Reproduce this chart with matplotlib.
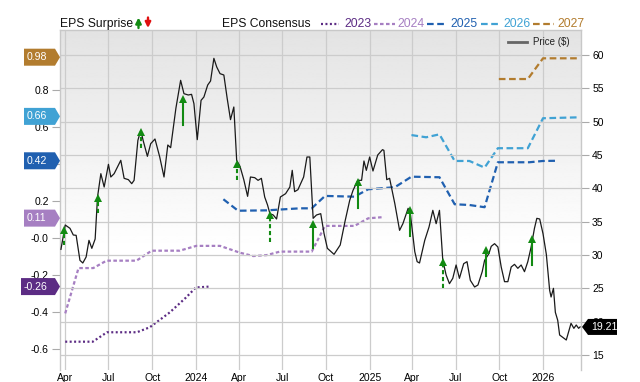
import matplotlib
matplotlib.use('Agg')
import numpy as np
import pandas as pd
import matplotlib.pyplot as plt
from matplotlib.patches import Polygon
from matplotlib.lines import Line2D

plt.rcParams['font.family'] = ['Liberation Sans', 'DejaVu Sans']

# price ($)
price_dates = ['2023-03-23', '2023-04-01', '2023-04-11', '2023-04-18', '2023-04-24', '2023-05-02',
               '2023-05-08', '2023-05-15', '2023-05-21', '2023-05-27', '2023-06-03', '2023-06-08',
               '2023-06-15', '2023-06-22', '2023-07-01', '2023-07-06', '2023-07-13', '2023-07-27',
               '2023-08-03', '2023-08-12', '2023-08-19', '2023-08-24', '2023-09-01', '2023-09-07',
               '2023-09-12', '2023-09-21', '2023-09-28', '2023-10-07', '2023-10-17', '2023-10-26',
               '2023-11-03', '2023-11-09', '2023-11-20', '2023-11-30', '2023-12-07', '2023-12-16',
               '2023-12-23', '2023-12-28', '2024-01-04', '2024-01-12', '2024-01-18', '2024-01-26',
               '2024-02-01', '2024-02-08', '2024-02-14', '2024-02-21', '2024-02-29', '2024-03-07',
               '2024-03-14', '2024-03-21', '2024-03-27', '2024-04-03', '2024-04-11', '2024-04-19',
               '2024-04-25', '2024-05-04', '2024-05-11', '2024-05-18', '2024-05-25', '2024-05-31',
               '2024-06-05', '2024-06-12', '2024-06-19', '2024-06-27', '2024-07-08', '2024-07-17',
               '2024-07-22', '2024-07-27', '2024-08-03', '2024-08-15', '2024-08-22', '2024-08-28',
               '2024-09-04', '2024-09-11', '2024-09-20', '2024-09-27', '2024-10-04', '2024-10-18',
               '2024-10-31', '2024-11-10', '2024-11-20', '2024-11-27', '2024-12-07', '2024-12-15',
               '2024-12-20', '2024-12-25', '2025-01-01', '2025-01-08', '2025-01-18', '2025-01-28',
               '2025-01-31', '2025-02-06', '2025-02-12', '2025-02-23', '2025-03-05', '2025-03-12',
               '2025-03-23', '2025-03-28', '2025-04-06', '2025-04-11', '2025-04-16', '2025-04-27',
               '2025-05-06', '2025-05-14', '2025-05-21', '2025-05-28', '2025-06-04', '2025-06-11',
               '2025-06-18', '2025-06-25', '2025-07-02', '2025-07-09', '2025-07-18', '2025-07-25',
               '2025-08-01', '2025-08-10', '2025-08-17', '2025-08-26', '2025-08-31', '2025-09-09',
               '2025-09-14', '2025-09-21', '2025-09-28', '2025-10-05', '2025-10-12', '2025-10-19',
               '2025-10-26', '2025-11-02', '2025-11-09', '2025-11-16', '2025-11-23', '2025-11-30',
               '2025-12-07', '2025-12-14', '2025-12-19', '2025-12-25', '2026-01-01', '2026-01-08',
               '2026-01-15', '2026-01-18', '2026-01-23', '2026-01-27', '2026-02-01', '2026-02-05',
               '2026-02-19', '2026-03-01', '2026-03-07', '2026-03-12', '2026-03-17', '2026-03-20']
price = [30.85, 34.5, 34.0, 33.0, 32.95, 29.2,
         28.8, 29.7, 32.2, 31.0, 32.4, 38.7,
         42.2, 40.2, 43.6, 41.7, 42.2, 44.2,
         41.5, 41.3, 40.7, 41.2, 47.2, 48.7,
         47.2, 44.8, 46.7, 47.4, 44.7, 41.7,
         46.5, 46.1, 52.0, 56.2, 54.2, 54.0,
         54.1, 52.7, 47.3, 53.2, 53.7, 55.5,
         56.1, 59.5, 58.2, 57.2, 57.0, 53.5,
         50.3, 52.2, 44.2, 43.3, 41.3, 38.8,
         41.7, 41.6, 41.2, 41.5, 38.7, 37.5,
         36.2, 36.0, 35.4, 38.7, 39.2, 40.2,
         42.7, 39.5, 39.8, 41.7, 44.7, 44.7,
         35.5, 36.0, 36.2, 33.2, 31.0, 30.1,
         31.5, 35.0, 38.2, 39.7, 41.2, 41.2,
         44.1, 42.7, 44.7, 42.6, 45.0, 45.8,
         45.7, 41.3, 41.5, 37.7, 33.7, 34.7,
         37.0, 36.0, 30.5, 29.0, 28.8, 32.2,
         34.2, 36.7, 34.7, 36.7, 29.2, 27.0,
         25.7, 26.5, 28.5, 26.5, 28.7, 29.0,
         26.2, 25.2, 25.5, 27.5, 29.2, 30.2,
         31.3, 31.7, 31.2, 28.2, 26.0, 26.0,
         28.2, 28.6, 28.0, 28.5, 27.5, 29.0,
         31.2, 34.0, 35.5, 35.4, 33.2, 30.1,
         24.7, 23.7, 25.0, 21.4, 20.2, 18.0,
         17.25, 19.75, 19.0, 19.5, 19.0, 19.21]

# EPS consensus by fiscal year
fy2023_dates = ['2023-04-01', '2023-05-29', '2023-06-28', '2023-08-30', '2023-09-26',
                '2023-11-07', '2023-12-11', '2024-01-01', '2024-01-31']
fy2023 = [-0.558, -0.558, -0.507, -0.507, -0.48, -0.40, -0.32, -0.265, -0.26]
fy2024_dates = ['2023-04-01', '2023-04-29', '2023-05-30', '2023-06-27', '2023-08-29', '2023-09-30',
                '2023-11-28', '2024-01-02', '2024-02-21', '2024-04-03', '2024-05-01', '2024-05-29',
                '2024-06-26', '2024-09-01', '2024-09-29', '2024-11-30', '2024-12-29', '2025-01-27']
fy2024 = [-0.405, -0.16, -0.16, -0.12, -0.12, -0.066,
          -0.066, -0.04, -0.04, -0.077, -0.095, -0.09,
          -0.071, -0.071, 0.068, 0.068, 0.109, 0.115]
fy2025_dates = ['2024-02-28', '2024-03-30', '2024-05-29', '2024-08-07', '2024-09-01', '2024-09-29',
                '2024-11-30', '2024-12-29', '2025-02-23', '2025-03-30', '2025-05-28', '2025-06-29',
                '2025-07-30', '2025-08-31', '2025-09-28', '2025-12-03', '2026-01-01', '2026-01-29']
fy2025 = [0.212, 0.150, 0.152, 0.163, 0.163, 0.23,
          0.226, 0.266, 0.277, 0.334, 0.331, 0.185,
          0.181, 0.169, 0.412, 0.412, 0.419, 0.42]
fy2026_dates = ['2025-03-30', '2025-04-30', '2025-05-28', '2025-06-29', '2025-07-30',
                '2025-08-31', '2025-09-28', '2025-11-30', '2026-01-01', '2026-03-19']
fy2026 = [0.559, 0.547, 0.563, 0.419, 0.419, 0.383, 0.488, 0.488, 0.65, 0.655]
fy2027_dates = ['2025-09-30', '2025-11-30', '2026-01-01', '2026-03-19']
fy2027 = [0.862, 0.862, 0.974, 0.974]

# EPS surprise arrows (price level of arrow base / head)
surprise_dates = ['2023-03-30', '2023-06-08', '2023-09-07', '2023-12-06', '2024-03-27', '2024-06-05',
                  '2024-09-04', '2024-12-08', '2025-03-27', '2025-06-05', '2025-09-02', '2025-12-09']
arrow_base = [31.5, 36.3, 46.0, 49.5, 41.2, 32.0, 31.0, 37.0, 32.8, 25.0, 26.8, 28.5]
arrow_tip = [33.8, 38.6, 48.4, 53.4, 43.6, 36.0, 34.7, 41.0, 36.8, 29.0, 30.8, 32.4]
arrow_dashed = [True, True, True, False, True, True, False, False, False, True, False, False]

tick_dates = ['2023-04-01', '2023-07-01', '2023-10-01', '2024-01-01', '2024-04-01', '2024-07-01',
              '2024-10-01', '2025-01-01', '2025-04-01', '2025-07-01', '2025-10-01', '2026-01-01']
tick_labels = ['Apr', 'Jul', 'Oct', '2024', 'Apr', 'Jul', 'Oct', '2025', 'Apr', 'Jul', 'Oct', '2026']
eps_ticks = [-0.6, -0.4, -0.2, 0.0, 0.2, 0.4, 0.6, 0.8]
eps_labels = ['-0.6', '-0.4', '-0.2', '-0.0', '0.2', '0.4', '0.6', '0.8']
price_ticks = [15, 20, 25, 30, 35, 40, 45, 50, 55, 60]

years = ['2023', '2024', '2025', '2026', '2027']
year_colors = ['#5c2c84', '#a67fc2', '#2060b0', '#40a2d4', '#b27c2e']
year_styles = [(0, (0.9, 1.1)), (0, (1.6, 1.1)), (0, (3, 1.6)), (0, (3, 1.6)), (0, (3, 1.6))]
badge_vals = [-0.26, 0.11, 0.42, 0.66, 0.98]
badge_text = ['-0.26', '0.11', '0.42', '0.66', '0.98']
last_price = 19.21

W, H = 640, 382
fig = plt.figure(figsize=(6.4, 3.82), dpi=100)
ax2 = fig.add_axes([60 / W, 1 - 370 / H, 521 / W, 340 / H])
ax = ax2.twinx()
ax2.set_zorder(1)
ax.set_zorder(2)
ax.patch.set_visible(False)

xmin, xmax = pd.Timestamp('2023-03-21'), pd.Timestamp('2026-03-22')

# background gradient
grad = np.concatenate([np.linspace(0.89, 1.0, 170), np.ones(90)]).reshape(-1, 1)
ax2.imshow(grad, extent=[0, 1, 0, 1], transform=ax2.transAxes, aspect='auto',
           cmap='gray', vmin=0, vmax=1, zorder=0, interpolation='bilinear')

# eps lines
series = [(fy2023_dates, fy2023), (fy2024_dates, fy2024), (fy2025_dates, fy2025),
          (fy2026_dates, fy2026), (fy2027_dates, fy2027)]
for (d, v), c, ls in zip(series, year_colors, year_styles):
    ax2.plot(pd.to_datetime(d), v, color=c, lw=1.6, linestyle=ls, zorder=3)

ax2.set_xlim(xmin, xmax)
ax2.set_ylim(-0.711, 1.127)
ax2.set_yticks(eps_ticks)
ax2.set_yticklabels(eps_labels)
ax2.set_xticks(pd.to_datetime(tick_dates))
ax2.set_xticklabels(tick_labels)
ax2.grid(axis='x', color='#cccccc', lw=0.9, zorder=1)
ax2.tick_params(axis='y', length=6, color='#aaaaaa', labelsize=7.5, pad=2)
ax2.tick_params(axis='x', length=0, labelsize=7.5, pad=2)
for s in ax2.spines.values():
    s.set_visible(False)

# price
ax.plot(pd.to_datetime(price_dates), price, color='#1a1a1a', lw=0.9, zorder=4)
green = '#128a12'
for d, b, t, dsh in zip(pd.to_datetime(surprise_dates), arrow_base, arrow_tip, arrow_dashed):
    ax.plot([d, d], [b, t], color=green, lw=1.5,
            linestyle=(0, (2, 1.3)) if dsh else '-', zorder=5)
    ax.plot([d], [t], marker='^', color=green, markersize=6, zorder=5, markeredgewidth=0)

ax.set_xlim(xmin, xmax)
ax.set_ylim(12.75, 63.75)
ax.set_yticks(price_ticks)
ax.grid(axis='y', color='#cccccc', lw=0.9)
ax.tick_params(axis='y', length=6, color='#aaaaaa', labelsize=7.5, pad=2)
for k, s in ax.spines.items():
    s.set_color('#c8c8c8')
    s.set_linewidth(1)
ax.spines['bottom'].set_visible(False)

# price legend inside plot
fig.lines.append(Line2D([508 / W, 527 / W], [1 - 42 / H] * 2, transform=fig.transFigure,
                        color='#666666', lw=2))
fig.text(533 / W, 1 - 42 / H, 'Price ($)', fontsize=7, va='center', ha='left', color='#222222')

# badges on the left axis
to_fig = fig.transFigure.inverted()
for v, t, c in zip(badge_vals, badge_text, year_colors):
    yf = to_fig.transform(ax2.transData.transform((0, v)))[1] * H
    x0 = 21 if t.startswith('-') else 24
    pts = [(x0, yf - 8.5), (55, yf - 8.5), (60, yf), (55, yf + 8.5), (x0, yf + 8.5)]
    fig.patches.append(Polygon([(px / W, py / H) for px, py in pts], closed=True,
                               transform=fig.transFigure, facecolor=c, edgecolor='none',
                               zorder=10))
    fig.text((x0 + 3) / W, yf / H, t, color='white', fontsize=7.6, va='center', ha='left',
             zorder=11)

# last price badge
yf = to_fig.transform(ax.transData.transform((0, last_price)))[1] * H
pts = [(582, yf), (588, yf - 8), (617, yf - 8), (617, yf + 8), (588, yf + 8)]
fig.patches.append(Polygon([(px / W, py / H) for px, py in pts], closed=True,
                           transform=fig.transFigure, facecolor='black', edgecolor='none',
                           zorder=10))
fig.text(591 / W, yf / H, '%.2f' % last_price, color='white', fontsize=7.6, va='center',
         ha='left', zorder=11)

# header
base = 1 - 27 / H
fig.text(60 / W, base, 'EPS Surprise', fontsize=8.7, va='baseline', ha='left', color='#111111')
ax.annotate('', xy=(138.5 / W, 1 - 17.5 / H), xytext=(138.5 / W, 1 - 28 / H),
            xycoords='figure fraction', textcoords='figure fraction',
            arrowprops=dict(arrowstyle='-|>', color=green, lw=1.7, mutation_scale=8,
                            shrinkA=0, shrinkB=0))
ax.annotate('', xy=(148 / W, 1 - 28 / H), xytext=(148 / W, 1 - 17.5 / H),
            xycoords='figure fraction', textcoords='figure fraction',
            arrowprops=dict(arrowstyle='-|>', color='#e01010', lw=1.7, mutation_scale=8,
                            shrinkA=0, shrinkB=0))
fig.text(222 / W, base, 'EPS Consensus', fontsize=8.7, va='baseline', ha='left', color='#111111')
seg_x = [(321, 339), (374, 395), (427, 447), (481, 498), (533, 554)]
txt_x = [344, 397, 450, 503, 557]
for (a, b), tx, yr, c, ls in zip(seg_x, txt_x, years, year_colors, year_styles):
    fig.lines.append(Line2D([a / W, b / W], [1 - 23.5 / H] * 2, transform=fig.transFigure,
                            color=c, lw=1.6, linestyle=ls))
    fig.text(tx / W, base, yr, fontsize=8.7, va='baseline', ha='left', color=c)

fig.savefig('out.png', dpi=100)
